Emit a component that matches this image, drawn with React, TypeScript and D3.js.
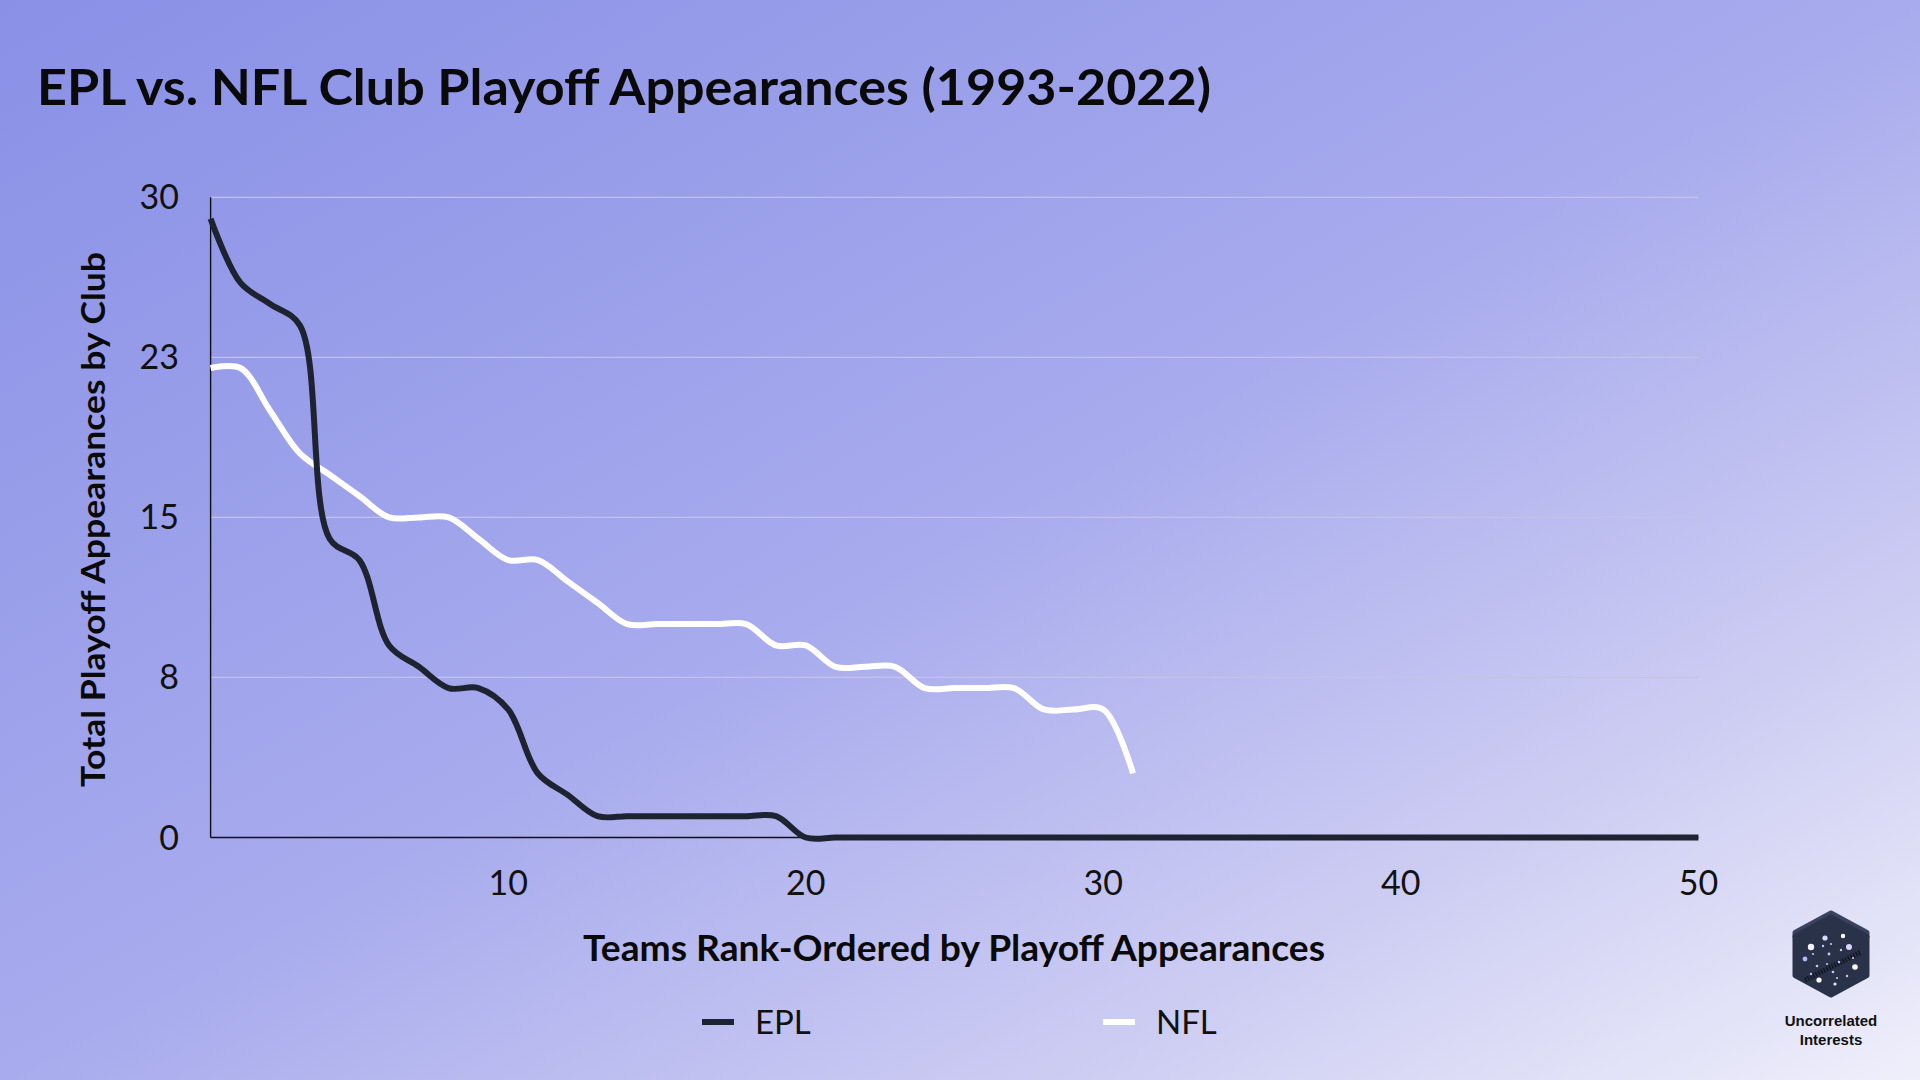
import { curveCatmullRom, line, scaleLinear } from "d3";

// playoff appearances per club, rank-ordered (index 0 = most appearances)
const eplAppearances = [
  29, 26, 25, 24, 14, 13, 9, 8, 7, 7, 6, 3, 2, 1, 1, 1, 1, 1, 1, 1,
  0, 0, 0, 0, 0, 0, 0, 0, 0, 0, 0, 0, 0, 0, 0, 0, 0, 0, 0, 0,
  0, 0, 0, 0, 0, 0, 0, 0, 0, 0, 0,
];
const nflAppearances = [
  22, 22, 20, 18, 17, 16, 15, 15, 15, 14, 13, 13, 12, 11, 10, 10, 10, 10,
  10, 9, 9, 8, 8, 8, 7, 7, 7, 7, 6, 6, 6, 3,
];

const yTickValues = [0, 7.5, 15, 22.5, 30];
const yTickLabels = ["0", "8", "15", "23", "30"];
const xTickValues = [10, 20, 30, 40, 50];
const seriesNames = ["EPL", "NFL"];

const W = 1920;
const H = 1080;
const left = 210.6;
const right = 1698.4;
const top = 197.3;
const bottom = 837.5;

const eplColor = "#1e2332";
const nflColor = "#ffffff";

// decorative dots for the logo, relative to hexagon centre
const logoDots: [number, number, number, string][] = [
  [-20, -9, 3.2, "#f4f2ff"], [-6, -18, 2.6, "#d9d6ff"], [12, -20, 2.2, "#ffffff"],
  [18, -9, 3, "#d8d4ff"], [-26, 3, 2.4, "#b9b3ff"], [24, 11, 2.8, "#ffffff"],
  [-12, 24, 2.6, "#ffffff"], [4, 28, 1.6, "#e6e4ff"], [-2, -2, 1.4, "#c9c6ef"],
  [8, 6, 1.3, "#c9c6ef"], [-14, 10, 1.3, "#c9c6ef"], [2, 16, 1.3, "#c9c6ef"],
  [-8, -10, 1.2, "#c9c6ef"], [10, -6, 1.2, "#c9c6ef"], [16, 20, 1.2, "#c9c6ef"],
  [-20, 18, 1.2, "#c9c6ef"], [-18, -2, 1.1, "#c9c6ef"], [0, -12, 1.1, "#c9c6ef"],
  [22, 2, 1.1, "#c9c6ef"], [-4, 8, 1.1, "#c9c6ef"], [6, 22, 1.1, "#c9c6ef"],
];

export default function App() {
  const x = scaleLinear().domain([0, 50]).range([left, right]);
  const y = scaleLinear().domain([0, 30]).range([bottom, top]);

  const path = line<number>()
    .x((_, i) => x(i))
    .y((d) => y(d))
    .curve(curveCatmullRom.alpha(0.5));

  const cx = 1831;
  const cy = 956;
  const hex = [
    [0, -39], [36, -19.5], [36, 19.5], [0, 39], [-36, 19.5], [-36, -19.5],
  ]
    .map(([dx, dy]) => `${cx + dx},${cy + dy}`)
    .join(" ");
  const hexTop = [
    [0, -43], [36, -23.5], [36, -19.5], [0, -39], [-36, -19.5], [-36, -23.5],
  ]
    .map(([dx, dy]) => `${cx + dx},${cy + dy}`)
    .join(" ");

  const legendX = [702, 1103];

  return (
    <svg
      width={W}
      height={H}
      viewBox={`0 0 ${W} ${H}`}
      style={{ position: "absolute", left: 0, top: 0, display: "block" }}
      fontFamily="Lato, 'Noto Sans', sans-serif"
    >
      <defs>
        <linearGradient id="bg" x1="0" y1="0" x2="1" y2="1">
          <stop offset="0" stopColor="#8990e6" />
          <stop offset="0.5" stopColor="#a8abed" />
          <stop offset="0.78" stopColor="#cdcdf3" />
          <stop offset="1" stopColor="#efeffb" />
        </linearGradient>
      </defs>
      <rect width={W} height={H} fill="url(#bg)" />

      <text
        x={37}
        y={105}
        fontSize={49}
        fontWeight={700}
        fill="#0a0a0a"
        textLength={1174}
        lengthAdjust="spacingAndGlyphs"
      >
        EPL vs. NFL Club Playoff Appearances (1993-2022)
      </text>

      {/* gridlines */}
      {yTickValues.map((t, i) => (
        <g key={t}>
          {t > 0 ? (
            <line x1={left} x2={right} y1={y(t)} y2={y(t)} stroke="#c6c6d2" strokeWidth={1.2} />
          ) : null}
          <text
            x={179}
            y={y(t) + 12}
            textAnchor="end"
            fontSize={34}
            fill="#111"
          >
            {yTickLabels[i]}
          </text>
        </g>
      ))}

      {xTickValues.map((t) => (
        <text key={t} x={x(t)} y={895} textAnchor="middle" fontSize={34} fill="#111">
          {t}
        </text>
      ))}

      {/* axes */}
      <line x1={left} x2={left} y1={top} y2={bottom} stroke="#111" strokeWidth={1.4} />
      <line x1={left} x2={right} y1={bottom} y2={bottom} stroke="#111" strokeWidth={1.4} />

      <path d={path(nflAppearances) ?? ""} fill="none" stroke={nflColor} strokeWidth={6} strokeLinejoin="round" />
      <path d={path(eplAppearances) ?? ""} fill="none" stroke={eplColor} strokeWidth={6} strokeLinejoin="round" />

      {/* axis titles */}
      <text
        transform="translate(105,519.5) rotate(-90)"
        textAnchor="middle"
        fontSize={33}
        fontWeight={700}
        fill="#0a0a0a"
        textLength={535}
        lengthAdjust="spacingAndGlyphs"
      >
        Total Playoff Appearances by Club
      </text>
      <text
        x={954}
        y={961}
        textAnchor="middle"
        fontSize={37}
        fontWeight={700}
        fill="#0a0a0a"
        textLength={742}
        lengthAdjust="spacingAndGlyphs"
      >
        Teams Rank-Ordered by Playoff Appearances
      </text>

      {/* legend */}
      {seriesNames.map((name, i) => (
        <g key={name}>
          <line
            x1={legendX[i]}
            x2={legendX[i] + 32}
            y1={1022}
            y2={1022}
            stroke={i === 0 ? eplColor : nflColor}
            strokeWidth={6}
          />
          <text x={legendX[i] + 53} y={1034} fontSize={33} fill="#111">
            {name}
          </text>
        </g>
      ))}

      {/* logo */}
      <polygon points={hexTop} fill="#3a4260" stroke="#3a4260" strokeWidth={5} strokeLinejoin="round" />
      <polygon points={hex} fill="#2a3249" stroke="#2a3249" strokeWidth={5} strokeLinejoin="round" />
      <line x1={cx - 26} y1={cy + 24} x2={cx + 30} y2={cy - 4} stroke="#101522" strokeWidth={5} strokeDasharray="1.5 1.5" />
      {logoDots.map(([dx, dy, r, c], i) => (
        <circle key={i} cx={cx + dx} cy={cy + dy} r={r} fill={c} />
      ))}
      <g fontFamily="'Liberation Sans', Arial, sans-serif" fontWeight={700} fontSize={15} fill="#111" textAnchor="middle">
        <text x={cx} y={1026}>Uncorrelated</text>
        <text x={cx} y={1045}>Interests</text>
      </g>
    </svg>
  );
}
